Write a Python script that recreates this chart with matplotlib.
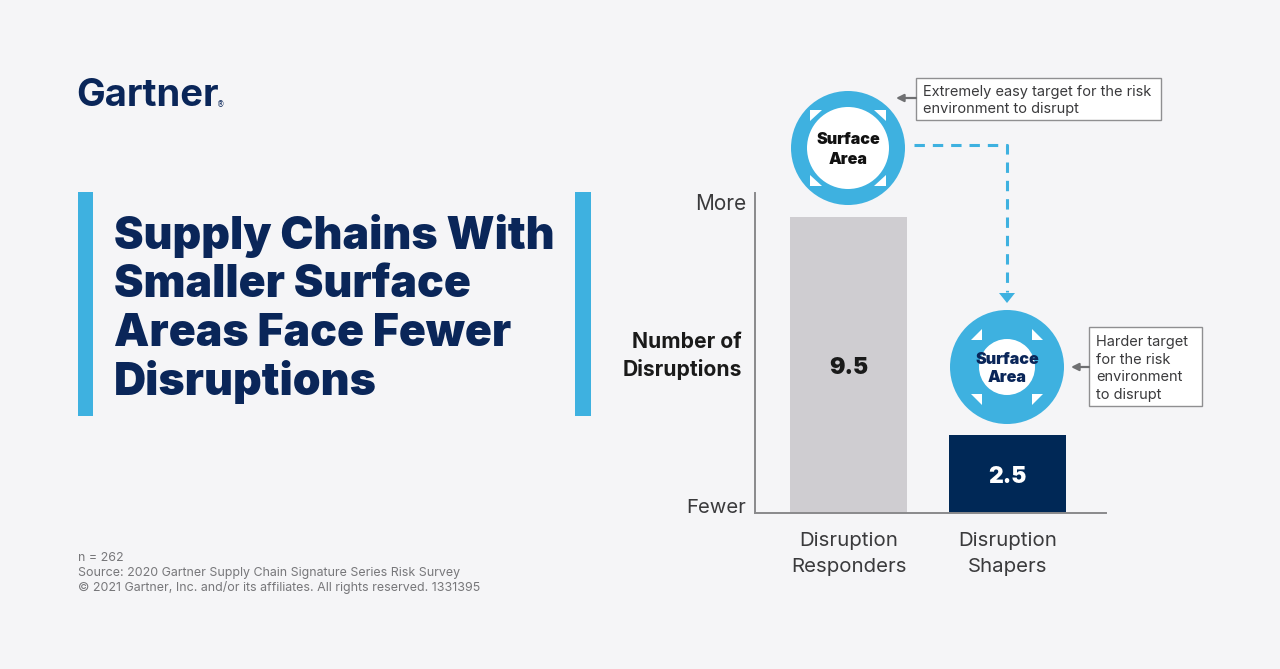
import matplotlib
matplotlib.use('Agg')
import matplotlib.pyplot as plt
from matplotlib.patches import Circle, Polygon, Rectangle

categories = ['Disruption\nResponders', 'Disruption\nShapers']
values = [9.5, 2.5]
value_labels = ['9.5', '2.5']
bar_colors = ['#cfcdd1', '#002856']
title_lines = ['Supply Chains With', 'Smaller Surface', 'Areas Face Fewer', 'Disruptions']
footer_lines = ['n = 262',
                'Source: 2020 Gartner Supply Chain Signature Series Risk Survey',
                '© 2021 Gartner, Inc. and/or its affiliates. All rights reserved. 1331395']

NAVY = '#0a2659'
BLUE = '#3eb1e0'
BG = '#f5f5f7'
GREY = '#6f7072'
TEXT = '#3a3a3c'

W, H = 1280, 669
fig = plt.figure(figsize=(12.8, 6.69), dpi=100, facecolor=BG)

# Слой в пикселях для всего оформления
bg = fig.add_axes([0, 0, 1, 1])
bg.set_xlim(0, W)
bg.set_ylim(H, 0)
bg.axis('off')

# Столбцы
ax = fig.add_axes([755 / W, 1 - 513 / H, 351 / W, 320 / H])
ax.patch.set_alpha(0)
ax.bar([0, 1], values, width=0.736, color=bar_colors)
ax.set_xlim(-0.59, 1.618)
ax.set_ylim(0, 10.26)
ax.set_xticks([0, 1])
ax.set_xticklabels(categories, fontsize=14.7, family='Inter', color=TEXT, linespacing=1.54)
ax.tick_params(axis='x', length=0, pad=14)
ax.set_yticks([])
ax.spines['top'].set_visible(False)
ax.spines['right'].set_visible(False)
ax.spines['left'].set_color('#8a8a8c')
ax.spines['bottom'].set_color('#8a8a8c')
ax.spines['left'].set_linewidth(1.4)
ax.spines['bottom'].set_linewidth(1.4)
ax.text(0, 4.65, value_labels[0], ha='center', va='center', fontsize=16.5,
        family='Inter', fontweight='black', color='#1a1a1a')
ax.text(1, 1.17, value_labels[1], ha='center', va='center', fontsize=16.5,
        family='Inter', fontweight='black', color='white')

# Логотип
bg.text(76, 96, 'Gartner', fontsize=27.5, family='Inter', fontweight='bold', color=NAVY,
        ha='left', va='center')
bg.text(221, 105, '®', fontsize=5.5, family='DejaVu Sans', color=NAVY, ha='center', va='center')

# Заголовок
bg.add_patch(Rectangle((78, 192), 15, 224, color=BLUE, lw=0))
bg.add_patch(Rectangle((575, 192), 16, 224, color=BLUE, lw=0))
for line, y in zip(title_lines, [236, 285, 334, 382]):
    bg.text(114, y, line, fontsize=32, family='Inter', fontweight='black', color=NAVY,
            ha='left', va='center')

# Подвал
for line, y in zip(footer_lines, [558, 573, 588]):
    bg.text(78, y, line, fontsize=8.95, family='Inter', color='#77777a', ha='left', va='center')

# Подписи оси
bg.text(721, 204, 'More', fontsize=15, family='Inter', color=TEXT, ha='center', va='center')
bg.text(716, 508, 'Fewer', fontsize=14.6, family='Inter', color=TEXT, ha='center', va='center')
bg.text(742, 356, 'Number of\nDisruptions', fontsize=15.2, family='Inter', fontweight='bold',
        color='#1a1a1a', ha='right', va='center', linespacing=1.36)


def ring(cx, cy, r_in, tris, label_color, y1, y2):
    bg.add_patch(Circle((cx, cy), 57, color=BLUE, lw=0, zorder=2))
    bg.add_patch(Circle((cx, cy), r_in, color='white', lw=0, zorder=3))
    for t, sx, sy in tris:
        pts = [(cx + sx * a, cy + sy * b) for a, b in t]
        bg.add_patch(Polygon(pts, closed=True, color='white', lw=0, zorder=4))
    bg.text(cx, y1, 'Surface', fontsize=11.6, family='Inter', fontweight='black',
            color=label_color, ha='center', va='center', zorder=5)
    bg.text(cx, y2, 'Area', fontsize=11.6, family='Inter', fontweight='black',
            color=label_color, ha='center', va='center', zorder=5)


# Прямой угол снаружи у первого круга и внутри у второго
outer = [(38, 38), (26, 38), (38, 27)]
inner = [(25, 27), (25, 38), (36, 27)]
corners = [(-1, -1), (1, -1), (-1, 1), (1, 1)]
ring(848, 148, 41, [(outer, sx, sy) for sx, sy in corners], '#111111', 140, 159)
ring(1007, 367, 28, [(inner, sx, sy) for sx, sy in corners], NAVY, 359, 378)

# Пунктирная стрелка
bg.plot([914, 1007, 1007], [145, 145, 292], color=BLUE, lw=2.2, dashes=(3.4, 2.6), zorder=2)
bg.add_patch(Polygon([(999, 293), (1015, 293), (1007, 303)], closed=True, color=BLUE, lw=0))

# Выноски
bg.add_patch(Rectangle((916, 78), 245, 42, fc='white', ec='#8f8f91', lw=1))
bg.text(923, 100.5, 'Extremely easy target for the risk\nenvironment to disrupt', fontsize=10.5,
        family='Inter', color=TEXT, ha='left', va='center', linespacing=1.36)
bg.add_patch(Rectangle((1089, 327), 113, 79, fc='white', ec='#8f8f91', lw=1))
bg.text(1096, 368.5, 'Harder target\nfor the risk\nenvironment\nto disrupt', fontsize=10.5,
        family='Inter', color=TEXT, ha='left', va='center', linespacing=1.36)
for x0, x1, y in [(916, 896, 98), (1089, 1071, 367)]:
    bg.annotate('', xy=(x1, y), xytext=(x0, y),
                arrowprops=dict(arrowstyle='-|>', color=GREY, lw=1.6, mutation_scale=11,
                                shrinkA=0, shrinkB=0))

plt.savefig('out.png', dpi=100, facecolor=BG)
